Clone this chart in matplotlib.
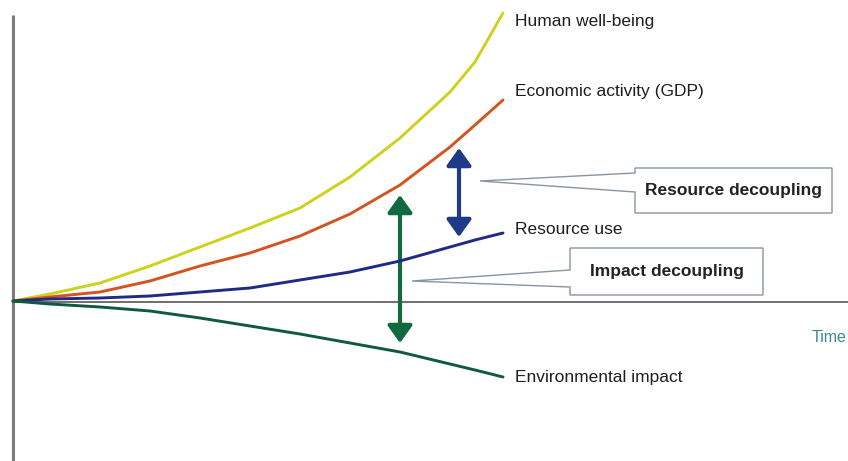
import matplotlib.pyplot as plt
from matplotlib.patches import Polygon, FancyArrowPatch

time = [0, 37, 87, 137, 187, 237, 287, 337, 387, 437, 462, 490]
wellbeing = [0, 7, 18, 35, 54, 73, 93, 124, 163, 209, 239, 288]
gdp = [0, 4, 9, 20, 35, 48, 65, 87, 116, 154, 176, 201]
resource = [0, 2, 3, 5, 9, 13, 21, 29, 40, 54, 61, 68]
impact = [0, -3, -6, -10, -17, -25, -33, -42, -51, -63, -69, -76]

labels = ["Human well-being", "Economic activity (GDP)", "Resource use", "Environmental impact"]
colors = ["#cdd21c", "#d4531f", "#1f2a86", "#0e5a3c"]

plt.rcParams['font.family'] = ['Liberation Sans Narrow', 'Liberation Sans', 'DejaVu Sans']

fig = plt.figure(figsize=(8.48, 4.61), dpi=100)
ax = fig.add_axes([0, 0, 1, 1])
ax.set_xlim(-13, 835)
ax.set_ylim(-160, 301)
ax.axis('off')

# axes
ax.plot([0, 0], [-162, 286], color="#7a7a7a", lw=2.2, solid_capstyle='butt')
ax.plot([0, 840], [-1, -1], color="#555555", lw=1.2)

series = [wellbeing, gdp, resource, impact]
for s, c in zip(series, colors):
    ax.plot(time, s, color=c, lw=2.1, solid_capstyle='round', solid_joinstyle='round')

label_y = [279, 209, 71, -76]
for lab, y in zip(labels, label_y):
    ax.text(502, y, lab, fontsize=12.5, color="#1e1e1e", va='center', ha='left')

ax.text(799, -37, "Time", fontsize=11.5, color="#3a8898", va='center', ha='left')

# decoupling arrows
ax.add_patch(FancyArrowPatch((446, 64), (446, 153), arrowstyle='<|-|>,head_width=5,head_length=7',
                             color="#1f3a86", lw=3, mutation_scale=1.5, shrinkA=0, shrinkB=0))
ax.add_patch(FancyArrowPatch((387, -42), (387, 106), arrowstyle='<|-|>,head_width=5,head_length=7',
                             color="#0f6a3f", lw=3, mutation_scale=1.5, shrinkA=0, shrinkB=0))

# callout boxes
def callout(tip, left, right, top, bottom, w1, w2, text):
    pts = [tip, (left, w1), (left, top), (right, top), (right, bottom), (left, bottom), (left, w2)]
    ax.add_patch(Polygon(pts, closed=True, facecolor="white", edgecolor="#8895a2", lw=1.0))
    ax.text((left + right) / 2, (top + bottom) / 2, text, fontsize=12.5, color="#222222",
            ha='center', va='center', fontweight='bold')

callout((467, 120), 622, 819, 133, 88, 128, 109, "Resource decoupling")
callout((399, 20), 557, 750, 53, 6, 31, 14, "Impact decoupling")

fig.savefig("out.png", dpi=100)
